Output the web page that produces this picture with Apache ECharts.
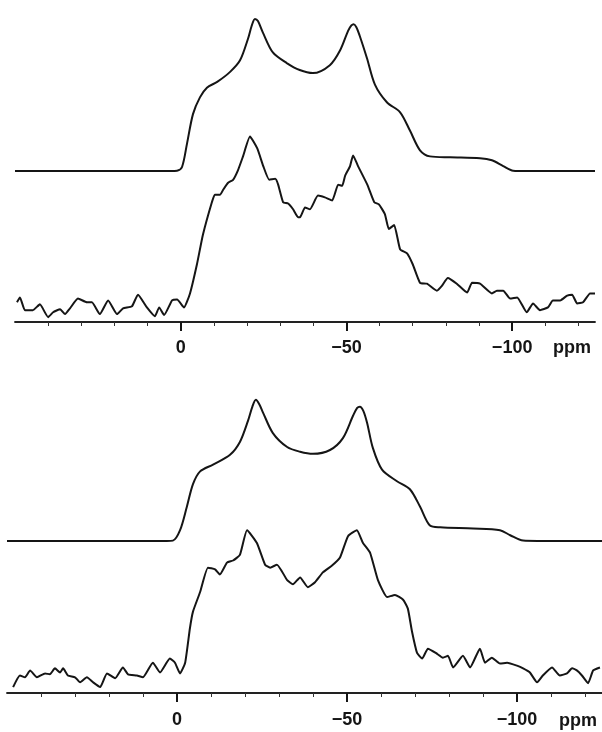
<!DOCTYPE html>
<html>
<head>
<meta charset="utf-8">
<script src="https://cdn.jsdelivr.net/npm/echarts@6/dist/echarts.min.js"></script>
<style>
  html, body { margin: 0; padding: 0; background: #fff; }
  #chart { width: 602px; height: 732px; }
</style>
</head>
<body>
<div id="chart"></div>
<script>
// chemical shift (ppm) vs intensity (a.u.), top and bottom spectra
const majorTicks = [0, -50, -100];
const minorTicks = [40, 30, 20, 10, -10, -20, -30, -40, -60, -70, -80, -90, -110, -120];

// top panel: simulated (smooth) and experimental (noisy)
const topSim = [[50, 49.7], [10, 49.7], [3, 49.7], [1.1, 49.8], [-0.4, 51.0], [-1.9, 58.7], [-3.7, 68.4], [-5.8, 73.9],
  [-7.9, 77.1], [-11.0, 79.0], [-14.9, 82.3], [-17.9, 86.1], [-20.3, 93.2], [-21.4, 97.4], [-22.4, 99.7],
  [-23.3, 99.0], [-24.8, 95.2], [-27.8, 88.7], [-32.0, 85.2], [-35.9, 82.9], [-39.9, 81.9], [-45.0, 84.5],
  [-48.1, 89.4], [-50.5, 95.8], [-51.5, 97.6], [-52.2, 98.0], [-53.0, 97.0], [-54.0, 94.2], [-56.2, 86.8],
  [-58.6, 78.1], [-62.2, 72.3], [-66.2, 69.0], [-69.2, 62.9], [-72.2, 56.5], [-75.2, 54.5], [-81.3, 54.2],
  [-90.3, 53.9], [-93.9, 53.2], [-97.3, 51.3], [-100.3, 49.8], [-104, 49.7], [-125, 49.7]];
const topExp = [[49.4, 6.5], [48.5, 8.1], [47.0, 3.9], [44.6, 3.9], [42.5, 5.8], [40.0, 1.6], [38.5, 3.2], [36.4, 4.2],
  [34.9, 2.6], [33.4, 4.5], [31.0, 7.7], [28.3, 6.5], [26.8, 6.5], [24.4, 2.6], [21.9, 7.1], [19.2, 2.6],
  [17.4, 4.5], [14.7, 5.2], [12.9, 9.0], [10.2, 4.8], [7.8, 1.9], [6.5, 4.8], [5.0, 2.3], [2.6, 7.1], [1.1, 7.4],
  [-1.0, 4.8], [-2.8, 9.4], [-4.9, 19.0], [-6.7, 28.7], [-9.4, 39.4], [-10.3, 41.9], [-11.9, 41.9], [-12.8, 43.5],
  [-14.3, 45.8], [-15.8, 46.8], [-17.3, 50.0], [-18.8, 54.5], [-20.9, 61.0], [-23.1, 57.1], [-24.9, 51.3],
  [-26.7, 46.8], [-28.5, 47.1], [-29.4, 45.2], [-30.9, 39.4], [-32.4, 39.0], [-33.9, 37.1], [-35.4, 34.5],
  [-36.0, 34.5], [-37.5, 37.7], [-39.0, 37.1], [-41.4, 41.6], [-43.5, 41.0], [-45.7, 40.0], [-47.5, 45.2],
  [-48.7, 44.8], [-49.6, 48.1], [-51.1, 51.3], [-52.0, 54.8], [-53.5, 51.3], [-56.3, 45.2], [-58.4, 39.4],
  [-59.8, 38.7], [-61.6, 35.5], [-62.8, 30.6], [-64.4, 31.9], [-66.2, 23.9], [-68.3, 22.6], [-70.0, 19.0],
  [-72.2, 12.9], [-74.3, 12.6], [-77.3, 10.3], [-78.8, 11.9], [-80.6, 14.5], [-83.3, 12.6], [-86.4, 9.7],
  [-87.9, 12.9], [-90.3, 12.6], [-93.9, 9.4], [-95.4, 10.3], [-97.3, 10.3], [-99.4, 7.7], [-101.5, 8.1],
  [-104.4, 3.2], [-106.3, 6.1], [-108.4, 3.9], [-110.8, 4.8], [-112.3, 7.1], [-114.5, 7.1], [-116.6, 8.7],
  [-118.1, 9.0], [-119.6, 6.1], [-121.4, 6.5], [-123.5, 9.4], [-125.0, 9.4]];

// bottom panel
const botSim = [[50, 51.2], [10, 51.2], [3, 51.2], [1.2, 51.3], [-0.9, 54.8], [-2.9, 62.7], [-4.7, 70.3], [-6.8, 74.6],
  [-10.6, 76.9], [-15.6, 80.2], [-18.5, 84.5], [-20.9, 91.7], [-22.2, 96.5], [-23.2, 98.7], [-24.2, 97.2],
  [-25.3, 94.4], [-28.2, 87.5], [-32.4, 82.8], [-36.2, 81.2], [-40.0, 80.5], [-45.0, 81.8], [-48.8, 85.8],
  [-51.8, 93.4], [-53.0, 96.0], [-53.8, 96.4], [-54.8, 95.0], [-55.9, 91.0], [-57.6, 82.5], [-60.3, 75.2],
  [-64.7, 71.3], [-68.5, 68.6], [-71.5, 62.7], [-74.4, 56.4], [-77.4, 55.8], [-87.1, 55.4], [-95.0, 54.8],
  [-98.0, 53.1], [-101.8, 51.3], [-106, 51.2], [-125, 51.2]];
const botExp = [[48.2, 2.0], [46.2, 5.9], [44.7, 5.3], [43.2, 7.6], [41.2, 5.3], [38.8, 6.6], [37.4, 6.3], [35.9, 8.3],
  [34.4, 6.9], [33.5, 8.3], [32.1, 5.9], [30.0, 5.3], [28.5, 3.6], [26.5, 5.3], [24.7, 3.6], [22.6, 2.0],
  [20.6, 6.6], [18.2, 5.0], [15.9, 8.6], [14.4, 6.3], [11.8, 5.9], [10.0, 5.3], [7.1, 10.2], [5.0, 6.9],
  [2.1, 11.6], [0.6, 10.2], [-0.9, 6.6], [-2.4, 10.2], [-3.8, 21.8], [-4.7, 27.4], [-6.8, 34.0], [-9.1, 42.2],
  [-11.2, 41.6], [-12.6, 39.9], [-14.7, 43.9], [-16.5, 44.6], [-18.5, 46.5], [-20.6, 54.8], [-23.5, 50.5],
  [-25.9, 43.2], [-27.4, 42.2], [-29.4, 43.2], [-32.4, 38.0], [-34.1, 36.6], [-36.2, 38.9], [-38.5, 35.6],
  [-40.6, 37.3], [-42.9, 40.6], [-45.6, 42.9], [-47.9, 45.5], [-50.3, 52.8], [-52.9, 54.8], [-54.7, 50.5],
  [-56.8, 47.2], [-59.1, 38.0], [-61.8, 32.3], [-64.1, 33.0], [-66.5, 31.4], [-67.9, 28.4], [-69.1, 20.8],
  [-70.6, 13.5], [-72.1, 11.6], [-73.8, 14.9], [-76.5, 13.2], [-78.2, 11.9], [-79.7, 12.5], [-81.2, 8.6],
  [-84.1, 12.5], [-86.2, 8.6], [-89.1, 14.9], [-90.6, 10.2], [-92.6, 11.9], [-95.0, 9.9], [-97.1, 10.2],
  [-100.0, 9.2], [-101.8, 8.3], [-103.8, 6.9], [-105.9, 3.6], [-107.6, 5.9], [-110.3, 8.6], [-112.6, 5.9],
  [-114.7, 6.6], [-116.2, 8.3], [-117.6, 7.6], [-119.1, 5.9], [-120.9, 3.3], [-122.4, 7.6], [-124.4, 8.6]];

const ink = '#151515';
const labelFont = '"Liberation Sans", Arial, sans-serif';

// two overlapping axes per grid: short grey ticks every 10 ppm, long ticks + labels at 0/-50/-100
function makeAxes(gridIndex, margin) {
  return [{
    type: 'value',
    gridIndex: gridIndex,
    min: -125,
    max: 50,
    inverse: true,
    position: 'bottom',
    axisLine: {show: true, onZero: false, lineStyle: {color: ink, width: 1.5}},
    axisTick: {show: true, customValues: minorTicks, length: 4, lineStyle: {color: '#333', width: 1}},
    axisLabel: {show: true, customValues: minorTicks, formatter: function() { return ''; }},
    splitLine: {show: false},
  }, {
    type: 'value',
    gridIndex: gridIndex,
    min: -125,
    max: 50,
    inverse: true,
    position: 'bottom',
    offset: 0,
    axisLine: {show: true, onZero: false, lineStyle: {color: ink, width: 1.5}},
    axisTick: {show: true, customValues: majorTicks, length: 9, lineStyle: {color: ink, width: 2}},
    axisLabel: {
      show: true,
      customValues: majorTicks,
      margin: margin,
      color: ink,
      fontFamily: labelFont,
      fontWeight: 'bold',
      fontSize: 18,
      formatter: function(v) { return String(v).replace('-', '\u2212'); }
    },
    splitLine: {show: false},
  }];
}

function lineSeries(data, xi, yi, smooth) {
  return {
    type: 'line',
    xAxisIndex: xi,
    yAxisIndex: yi,
    data: data,
    showSymbol: false,
    smooth: smooth,
    lineStyle: {color: ink, width: 2},
  };
}

function renderChart() {
  const dom = document.getElementById('chart');
  const chart = echarts.init(dom);
  const option = {
    animation: false,
    backgroundColor: '#fff',
    grid: [
      {left: 15, right: 7, top: 12, bottom: 410},
      {left: 7, right: 0, top: 390, bottom: 39},
    ],
    xAxis: makeAxes(0, 17).concat(makeAxes(1, 18)),
    yAxis: [
      {type: 'value', gridIndex: 0, min: 0, max: 102, show: false},
      {type: 'value', gridIndex: 1, min: 0, max: 102, show: false},
    ],
    graphic: [
      {type: 'text', left: 553, top: 339, style: {text: 'ppm', fill: ink, font: 'bold 18px ' + labelFont}},
      {type: 'text', left: 559, top: 712, style: {text: 'ppm', fill: ink, font: 'bold 18px ' + labelFont}},
    ],
    series: [
      lineSeries(topSim, 1, 0, 0.3),
      lineSeries(topExp, 1, 0, 0.15),
      lineSeries(botSim, 3, 1, 0.3),
      lineSeries(botExp, 3, 1, 0.15),
    ]
  };
  chart.setOption(option, true);
}

renderChart();
</script>
</body>
</html>
